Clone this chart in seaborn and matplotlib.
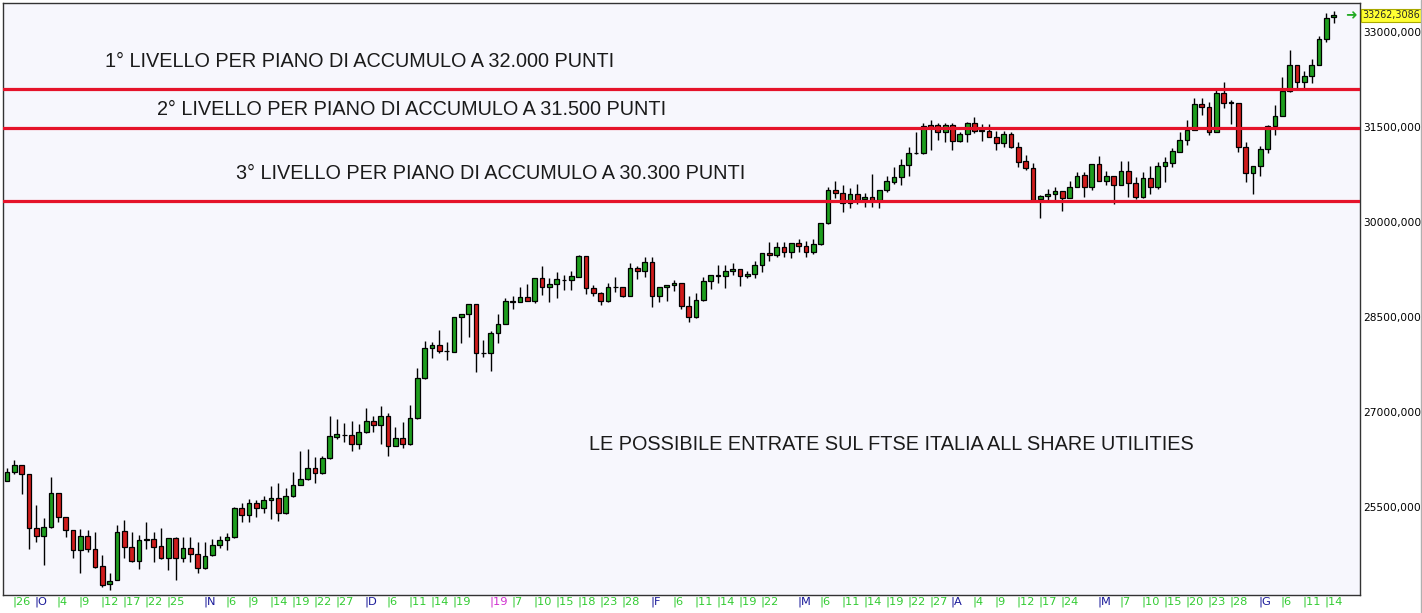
import matplotlib
matplotlib.use("Agg")
import matplotlib.pyplot as plt
import matplotlib.transforms as mtransforms
from matplotlib.lines import Line2D
import seaborn as sns
import numpy as np

# daily candles, 25 Sep 2018 -> 17 Jun 2019 (trading-day index)
opens = [25915, 26057, 26163, 26016, 25163, 25046, 25179, 25716, 25337, 25136,
         24820, 25046, 24831, 24568, 24279, 24347, 25120, 24863, 24642, 24974,
         24994, 24884, 24689, 25005, 24689, 24847, 24753, 24541, 24737, 24895,
         24974, 25021, 25479, 25368, 25558, 25479, 25605, 25637, 25400, 25668,
         25842, 25937, 26110, 26032, 26268, 26610, 26630, 26636, 26489, 26679,
         26857, 26790, 26936, 26467, 26584, 26489, 26900, 27532, 28005, 28057,
         27967, 27952, 28495, 28547, 28705, 27926, 27936, 28242, 28389, 28745,
         28732, 28811, 28748, 29111, 28978, 29016, 29090, 29080, 29136, 29463,
         28953, 28883, 28757, 28968, 28968, 28836, 29269, 29231, 29363, 28836,
         28968, 29000, 29032, 28678, 28504, 28768, 29068, 29158, 29147, 29226,
         29253, 29147, 29179, 29321, 29505, 29474, 29610, 29521, 29663, 29625,
         29531, 29647, 29979, 30505, 30453, 30295, 30437, 30358, 30390, 30347,
         30505, 30636, 30705, 30900, 31090, 31084, 31527, 31527, 31416, 31527,
         31283, 31389, 31558, 31441, 31437, 31347, 31252, 31389, 31189, 30963,
         30860, 30358, 30415, 30445, 30484, 30386, 30560, 30737, 30548, 30911,
         30647, 30721, 30584, 30805, 30611, 30390, 30690, 30545, 30889, 30936,
         31110, 31294, 31452, 31858, 31820, 31425, 32032, 31890, 31874, 31179,
         30778, 30884, 31152, 31520, 31673, 32068, 32479, 32205, 32305, 32479,
         32884, 33241]
highs = [26110, 26242, 26170, 26020, 25531, 25321, 25978, 25720, 25340, 25140,
         25147, 25136, 25100, 24742, 24452, 25215, 25294, 25100, 25057, 25267,
         25109, 25163, 25010, 25031, 25031, 25031, 24952, 24952, 24994, 25042,
         25084, 25495, 25558, 25621, 25610, 25673, 25831, 25883, 25795, 26052,
         26384, 26415, 26294, 26310, 26936, 26894, 26821, 26857, 26810, 27067,
         26936, 27094, 26979, 26767, 26837, 27110, 27690, 28121, 28110, 28294,
         28110, 28500, 28555, 28710, 28710, 28136, 28279, 28547, 28795, 28831,
         28978, 29016, 29115, 29305, 29111, 29205, 29163, 29226, 29479, 29470,
         29005, 28890, 29032, 29136, 28975, 29348, 29305, 29452, 29452, 28975,
         29005, 29084, 29040, 28836, 28874, 29136, 29165, 29321, 29321, 29348,
         29260, 29231, 29384, 29510, 29679, 29679, 29679, 29670, 29731, 29700,
         29726, 29985, 30557, 30647, 30584, 30532, 30595, 30462, 30758, 30510,
         30726, 30873, 30994, 31189, 31425, 31558, 31610, 31568, 31568, 31568,
         31425, 31584, 31662, 31547, 31547, 31441, 31441, 31425, 31268, 31058,
         30936, 30420, 30516, 30557, 30490, 30647, 30789, 30789, 30915, 31042,
         30810, 30726, 30963, 30963, 30705, 30794, 30884, 30952, 31031, 31163,
         31416, 31610, 31962, 31953, 31899, 32084, 32215, 31926, 31880, 31268,
         30890, 31205, 31525, 31847, 32284, 32716, 32485, 32389, 32569, 32937,
         33295, 33331]
lows = [25910, 26016, 25700, 24836, 24952, 24584, 25170, 25267, 25031, 24689,
        24452, 24794, 24541, 24241, 24189, 24340, 24689, 24630, 24516, 24831,
        24636, 24680, 24505, 24347, 24636, 24636, 24452, 24516, 24730, 24847,
        24820, 25015, 25267, 25267, 25346, 25400, 25305, 25283, 25395, 25660,
        25840, 25930, 25883, 26025, 26260, 26568, 26530, 26388, 26410, 26670,
        26689, 26494, 26310, 26460, 26436, 26480, 26895, 27525, 27857, 27926,
        27821, 27945, 28084, 28189, 27636, 27873, 27652, 28084, 28385, 28621,
        28730, 28745, 28716, 28847, 28741, 28795, 28926, 28926, 29130, 28858,
        28836, 28689, 28741, 28890, 28820, 28830, 29100, 29126, 28662, 28741,
        28752, 28915, 28621, 28425, 28479, 28760, 28937, 29032, 28953, 29163,
        28994, 29111, 29120, 29205, 29389, 29452, 29452, 29426, 29531, 29442,
        29490, 29640, 29975, 30384, 30162, 30216, 30284, 30241, 30241, 30216,
        30469, 30600, 30584, 30726, 31073, 31080, 31137, 31294, 31268, 31137,
        31268, 31268, 31400, 31283, 31340, 31137, 31189, 31163, 30873, 30821,
        30350, 30058, 30347, 30347, 30181, 30380, 30555, 30390, 30505, 30640,
        30584, 30279, 30580, 30399, 30358, 30385, 30442, 30516, 30636, 30873,
        31105, 31215, 31445, 31689, 31373, 31420, 31795, 31547, 31100, 30636,
        30437, 30731, 31084, 31373, 31670, 32060, 32120, 32120, 32190, 32475,
        32847, 33147]
closes = [26060, 26163, 26016, 25163, 25046, 25179, 25716, 25337, 25136, 24820,
          25046, 24831, 24557, 24268, 24336, 25109, 24863, 24642, 24978, 24994,
          24873, 24689, 25005, 24689, 24847, 24753, 24541, 24730, 24895, 24978,
          25026, 25479, 25368, 25558, 25479, 25605, 25637, 25400, 25668, 25847,
          25942, 26110, 26032, 26268, 26621, 26652, 26636, 26489, 26679, 26857,
          26790, 26936, 26467, 26584, 26489, 26900, 27532, 28005, 28057, 27967,
          27960, 28495, 28547, 28705, 27926, 27936, 28252, 28389, 28752, 28741,
          28811, 28748, 29111, 28978, 29016, 29095, 29084, 29147, 29463, 28953,
          28883, 28757, 28968, 28968, 28836, 29269, 29231, 29363, 28836, 28968,
          29000, 29032, 28678, 28504, 28768, 29068, 29158, 29152, 29226, 29257,
          29147, 29179, 29321, 29505, 29474, 29610, 29521, 29663, 29625, 29531,
          29647, 29979, 30505, 30453, 30295, 30437, 30347, 30390, 30347, 30505,
          30647, 30705, 30900, 31094, 31084, 31515, 31479, 31416, 31527, 31283,
          31389, 31558, 31441, 31445, 31347, 31252, 31389, 31189, 30952, 30857,
          30355, 30415, 30442, 30484, 30386, 30560, 30734, 30548, 30911, 30647,
          30721, 30584, 30805, 30611, 30390, 30690, 30548, 30889, 30942, 31121,
          31294, 31452, 31858, 31820, 31425, 32032, 31883, 31883, 31179, 30778,
          30884, 31152, 31520, 31673, 32068, 32479, 32205, 32305, 32479, 32884,
          33216, 33262]

# x axis labels (trading-day index of each label)
tick_idx = [1, 4, 7, 10, 13, 16, 19, 22, 27, 30, 33, 36, 39, 42, 45, 49, 52, 55,
            58, 61, 66, 69, 72, 75, 78, 81, 84, 88, 91, 94, 97, 100, 103, 108,
            111, 114, 117, 120, 123, 126, 129, 132, 135, 138, 141, 144, 149, 152,
            155, 158, 161, 164, 167, 171, 174, 177, 180]
tick_txt = ["26", "O", "4", "9", "12", "17", "22", "25", "N", "6", "9", "14", "19",
            "22", "27", "D", "6", "11", "14", "19", "19", "7", "10", "15", "18",
            "23", "28", "F", "6", "11", "14", "19", "22", "M", "6", "11", "14",
            "19", "22", "27", "A", "4", "9", "12", "17", "24", "M", "7", "10",
            "15", "20", "23", "28", "G", "6", "11", "14"]
year_labels = {66}

levels = [32100, 31490, 30330]
last_price = "33262,3086"

sns.set_theme(style="white")
plt.rcParams['font.family'] = ['DejaVu Sans']

fig = plt.figure(figsize=(14.22, 6.13), dpi=100)
ax = fig.add_axes([3 / 1422, 18 / 613, 1357 / 1422, 592 / 613])
ax.set_facecolor('#f7f7fd')

x = np.arange(len(opens))
o = np.array(opens)
c = np.array(closes)
up = c >= o
col = np.where(up, '#1e9e1e', '#d01c1c')

ax.vlines(x, lows, highs, color='black', lw=1, zorder=2)
ax.bar(x, np.maximum(np.abs(c - o), 1), bottom=np.minimum(o, c), width=0.64,
       color=col, edgecolor='black', linewidth=0.9, zorder=3)

for lv in levels:
    ax.axhline(lv, color='#e5132a', lw=2.3, zorder=4)

txt_kw = dict(fontsize=14.3, color='#1a1a1a', family=['Liberation Sans', 'DejaVu Sans'],
              ha='left', va='center')
ax.text(13.4, 32542, "1° LIVELLO PER PIANO DI ACCUMULO A 32.000 PUNTI", **txt_kw)
ax.text(20.5, 31784, "2° LIVELLO PER PIANO DI ACCUMULO A 31.500 PUNTI", **txt_kw)
ax.text(31.2, 30773, "3° LIVELLO PER PIANO DI ACCUMULO A 30.300 PUNTI", **txt_kw)
ax.text(79.4, 26494, "LE POSSIBILE ENTRATE SUL FTSE ITALIA ALL SHARE UTILITIES", **txt_kw)

ax.set_xlim(-0.55, 184.6)
ax.set_ylim(24110, 33458)

# y axis on the right
ax.yaxis.tick_right()
yt = np.arange(25500, 33001, 1500)
ax.set_yticks(yt)
ax.set_yticklabels([f"{v},000" for v in yt], fontsize=7.7, color='black')
ax.tick_params(axis='y', length=0, pad=2)

# x labels
ax.set_xticks(tick_idx)
ax.set_xticklabels(["|" + t for t in tick_txt], fontsize=8.2, ha='left')
ax.tick_params(axis='x', length=0, pad=1)
for i, lab in zip(tick_idx, ax.get_xticklabels()):
    t = lab.get_text()[1:]
    if i in year_labels:
        lab.set_color('#d030d0')
    elif t.isalpha():
        lab.set_color('#1a1a9a')
    else:
        lab.set_color('#33cc33')
    lab.set_transform(lab.get_transform() + mtransforms.ScaledTranslation(-1.5 / 100, 0, fig.dpi_scale_trans))

for s in ax.spines.values():
    s.set_visible(True)
    s.set_color('#333333')
    s.set_linewidth(1)

# last price marker
ax.text(183.4, 33262, "➜", color='#22aa22', fontsize=10, fontweight='bold',
        ha='center', va='center')
tr = mtransforms.blended_transform_factory(ax.transAxes, ax.transData)
ax.text(1.0018, 33262, last_price, transform=tr, fontsize=6.9, ha='left', va='center',
        bbox=dict(boxstyle='square,pad=0.15', facecolor='#ffff33', edgecolor='#aaaa00', lw=0.8))

fig.add_artist(Line2D([1420.5 / 1422, 1420.5 / 1422], [0, 1], color='#b0b0b0', lw=1))

fig.savefig("out.png", dpi=100, facecolor='white')
